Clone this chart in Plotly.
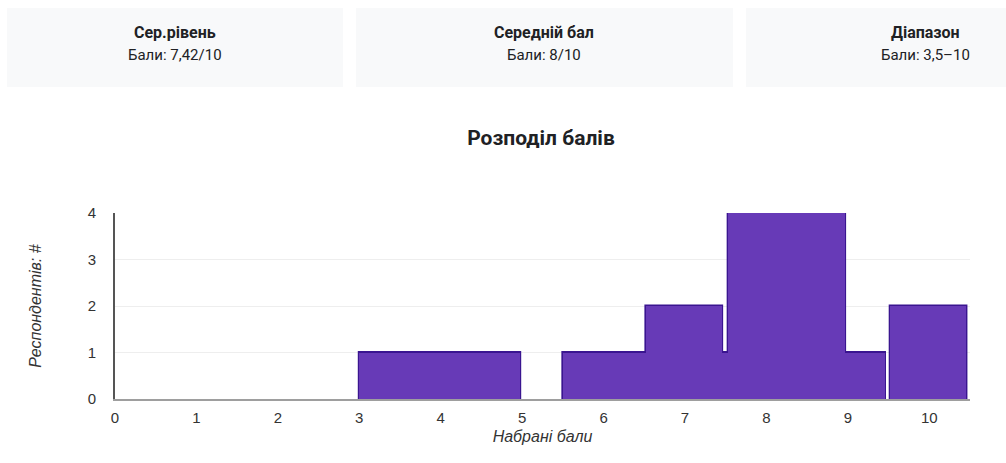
import plotly.graph_objects as go

# Histogram segments (score units)
bin_left = [5.5, 3.0, 6.52, 7.53, 9.52]
bin_right = [9.45, 4.97, 7.45, 8.96, 10.45]
counts = [1, 1, 2, 4, 2]

x_ticks = [0, 1, 2, 3, 4, 5, 6, 7, 8, 9, 10]
y_ticks = [0, 1, 2, 3, 4]

card_titles = ["Сер.рівень", "Середній бал", "Діапазон"]
card_values = ["Бали: 7,42/10", "Бали: 8/10", "Бали: 3,5–10"]

W, H = 1006, 463
L, R, T, B = 115, 36, 213, 64
pw, ph = W - L - R, H - T - B

def px(x):
    return (x - L) / pw

def py(y):
    return (H - B - y) / ph

centers = [(a + b) / 2 for a, b in zip(bin_left, bin_right)]
widths = [b - a for a, b in zip(bin_left, bin_right)]

fig = go.Figure()
# outline layer
fig.add_trace(go.Bar(
    x=centers, y=counts, width=widths,
    marker=dict(color="#3a1590", line=dict(color="#3a1590", width=3)),
    hoverinfo="skip",
))
# fill layer (hides internal seams between overlapping bars)
fig.add_trace(go.Bar(
    x=centers, y=counts, width=widths,
    marker=dict(color="#673ab7", line=dict(width=0)),
    hoverinfo="skip",
))

shapes = []
annotations = []
cards_px = [(7, 343), (356, 733), (746, 1123)]
text_cx = [175, 544, 925]
for (x0, x1), cx, t, v in zip(cards_px, text_cx, card_titles, card_values):
    shapes.append(dict(type="rect", xref="paper", yref="paper",
                       x0=px(x0), x1=px(x1), y0=py(87), y1=py(8),
                       fillcolor="#f8f9fa", line=dict(width=0), layer="below"))
    annotations.append(dict(xref="paper", yref="paper", x=px(cx), y=py(32),
                            text="<b>" + t + "</b>", showarrow=False,
                            font=dict(family="Roboto", size=16, color="#202124"),
                            xanchor="center", yanchor="middle"))
    annotations.append(dict(xref="paper", yref="paper", x=px(cx), y=py(55),
                            text=v, showarrow=False,
                            font=dict(family="Roboto", size=15, color="#202124"),
                            xanchor="center", yanchor="middle"))

fig.update_layout(
    width=W, height=H,
    margin=dict(l=L, r=R, t=T, b=B),
    paper_bgcolor="white", plot_bgcolor="white",
    barmode="overlay", bargap=0,
    showlegend=False,
    hovermode=False,
    title=dict(text="<b>Розподіл балів</b>", x=541 / W, xanchor="center",
               y=1 - 138 / H, yanchor="middle",
               font=dict(family="Roboto", size=21, color="#202124")),
    shapes=shapes, annotations=annotations,
    xaxis=dict(range=[0, 10.5], tickvals=x_ticks, ticktext=[str(v) for v in x_ticks],
               showgrid=False, zeroline=False, showline=True, linecolor="#9e9e9e",
               linewidth=1.5, ticks="outside", ticklen=4, tickcolor="rgba(0,0,0,0)",
               tickfont=dict(family="Liberation Sans", size=15, color="#333"),
               title=dict(text="Набрані бали", standoff=6,
                          font=dict(family="Liberation Sans", size=16, color="#333", style="italic"))),
    yaxis=dict(range=[0, 4], tickvals=y_ticks, showgrid=True, gridcolor="#eeeeee",
               gridwidth=1, zeroline=False, showline=True, linecolor="#555555",
               linewidth=2, ticks="outside", ticklen=14, tickcolor="rgba(0,0,0,0)",
               tickfont=dict(family="Liberation Sans", size=15, color="#333"),
               title=dict(text="Респондентів: #", standoff=42,
                          font=dict(family="Liberation Sans", size=16, color="#333", style="italic"))),
)

fig.write_html("out.html", config={"displayModeBar": False, "staticPlot": True},
               post_script="document.body.style.margin='0';")
